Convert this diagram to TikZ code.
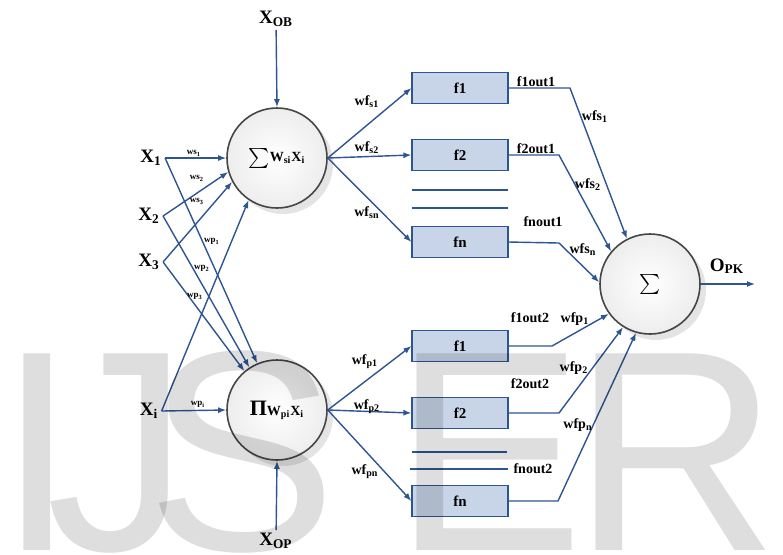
\documentclass[tikz,border=0pt]{standalone}
\usepackage{fontspec}
\setmainfont{Liberation Serif}
\newfontfamily\wmfont{Liberation Sans}
\usetikzlibrary{arrows.meta,positioning,shadows}

\definecolor{lineblue}{RGB}{45,85,145}
\definecolor{boxfill}{RGB}{200,213,233}
\definecolor{ringgray}{RGB}{70,70,70}

\begin{document}
\begin{tikzpicture}[
  x=0.5pt, y=-0.5pt,
  neuron/.style={circle, draw=ringgray, line width=0.8pt, minimum size=50pt, inner sep=0pt,
    inner color=white, outer color=gray!14, font=\fontsize{7}{8}\selectfont\bfseries,
    drop shadow={shadow xshift=3pt, shadow yshift=-3pt, opacity=.35, fill=gray!60}},
  fbox/.style={draw=lineblue, fill=boxfill, line width=0.6pt, minimum width=48pt, minimum height=15.5pt,
    inner sep=0pt, font=\fontsize{7.5}{9}\selectfont\bfseries},
  arr/.style={-{Latex[length=4pt,width=3pt]}, line width=0.7pt, lineblue},
  wire/.style={line width=0.7pt, lineblue},
  sep/.style={line width=0.6pt, lineblue},
  inp/.style={font=\fontsize{9.5}{11}\selectfont\bfseries, inner sep=1.5pt},
  wt/.style={font=\fontsize{4.5}{5}\selectfont\bfseries, inner sep=0pt},
  wlab/.style={font=\fontsize{7}{8}\selectfont\bfseries, inner sep=0pt},
  wm/.style={font=\fontsize{143}{143}\selectfont\wmfont, anchor=base, inner sep=0pt, text=black, text opacity=0.13}
]
\useasboundingbox (0,0) rectangle (783,554);

% neurons
\node[neuron] (sumnode) at (277,158) {$\sum$W\textsubscript{si}X\textsubscript{i}};
\node[neuron] (prodnode) at (277,410) {{\fontsize{11}{12}\selectfont Π}W\textsubscript{pi}X\textsubscript{i}};
\node[neuron] (outnode) at (650,284) {\fontsize{11}{12}\selectfont$\sum$};

% inputs
\node[inp] (xa) at (151,158) {X\textsubscript{1}};
\node[inp] (xb) at (149,216) {X\textsubscript{2}};
\node[inp] (xc) at (149,262) {X\textsubscript{3}};
\node[inp] (xi) at (149,411) {X\textsubscript{i}};
\node[inp] (xob) at (276,19) {X\textsubscript{OB}};
\node[inp] (xop) at (276,541) {X\textsubscript{OP}};

\draw[arr] (xob) -- (sumnode.north);
\draw[arr] (xop) -- (prodnode.south);

\draw[arr] (xa.east) -- (sumnode.180);
\draw[arr] (xb.east) -- (sumnode.196);
\draw[arr] (xc.east) -- (sumnode.208);
\draw[arr] (xi.east) -- (sumnode.236);
\draw[arr] (xa.east) -- (prodnode.113);
\draw[arr] (xb.east) -- (prodnode.123);
\draw[arr] (xc.east) -- (prodnode.130);
\draw[arr] (xi.east) -- (prodnode.180);

\node[wt] (wsa) at (194,153) {ws\textsubscript{1}};
\node[wt] (wsb) at (197,178) {ws\textsubscript{2}};
\node[wt] (wsc) at (197,201) {ws\textsubscript{3}};
\node[wt] (wpa) at (212,241) {wp\textsubscript{1}};
\node[wt] (wpb) at (202,268) {wp\textsubscript{2}};
\node[wt] (wpc) at (195,296) {wp\textsubscript{3}};
\node[wt] (wpi) at (198,404) {wp\textsubscript{i}};

% function boxes
\node[fbox] (fsa) at (460,88) {f1};
\node[fbox] (fsb) at (460,155) {f2};
\node[fbox] (fsn) at (460,242) {fn};
\node[fbox] (fpa) at (460,346) {f1};
\node[fbox] (fpb) at (460,413) {f2};
\node[fbox] (fpn) at (460,501) {fn};

\draw[sep] (412,190) -- (508,190);
\draw[sep] (412,208) -- (508,208);
\draw[sep] (412,452) -- (507,452);
\draw[sep] (410,469) -- (508,469);

\draw[arr] (sumnode.east) -- (fsa.west);
\draw[arr] (sumnode.east) -- (fsb.west);
\draw[arr] (sumnode.east) -- (fsn.west);
\draw[arr] (prodnode.east) -- (fpa.west);
\draw[arr] (prodnode.east) -- (fpb.west);
\draw[arr] (prodnode.east) -- (fpn.west);

\node[wlab] (wfsa) at (367,102) {wf\textsubscript{s1}};
\node[wlab] (wfsb) at (367,148) {wf\textsubscript{s2}};
\node[wlab] (wfsn) at (367,213) {wf\textsubscript{sn}};
\node[wlab] (wfpa) at (365,362) {wf\textsubscript{p1}};
\node[wlab] (wfpb) at (367,407) {wf\textsubscript{p2}};
\node[wlab] (wfpn) at (365,472) {wf\textsubscript{pn}};

% outputs to the sum
\coordinate (ka) at (570,88);
\coordinate (kb) at (559,155);
\coordinate (kn) at (559,243);
\coordinate (qa) at (552,346);
\coordinate (qb) at (559,413);
\coordinate (qn) at (558,501);
\draw[arr] (fsa.east) -- (ka) -- (outnode.117);
\draw[arr] (fsb.east) -- (kb) -- (outnode.140);
\draw[arr] (fsn.east) -- (kn) -- (outnode.178);
\draw[arr] (fpa.east) -- (qa) -- (outnode.216);
\draw[arr] (fpb.east) -- (qb) -- (outnode.238);
\draw[arr] (fpn.east) -- (qn) -- (outnode.254);

\node[wlab] (oa) at (536,82) {f1out1};
\node[wlab] (ob) at (536,149) {f2out1};
\node[wlab] (on) at (543,222) {fnout1};
\node[wlab] (pa) at (530,318) {f1out2};
\node[wlab] (pb) at (530,384) {f2out2};
\node[wlab] (pn) at (533,469) {fnout2};

\node[wlab] (wssa) at (595,117) {wfs\textsubscript{1}};
\node[wlab] (wssb) at (588,185) {wfs\textsubscript{2}};
\node[wlab] (wssn) at (583,250) {wfs\textsubscript{n}};
\node[wlab] (wppa) at (575,319) {wfp\textsubscript{1}};
\node[wlab] (wppb) at (574,368) {wfp\textsubscript{2}};
\node[wlab] (wppn) at (578,425) {wfp\textsubscript{n}};

\coordinate (oend) at (755,284);
\draw[arr] (outnode.east) -- (oend);
\node[inp] (opk) at (727,266) {O\textsubscript{PK}};

% watermark
\node[wm] (wmi) at (37,550) {I};
\node[wm] (wmj) at (118,550) {J};
\node[wm] (wms) at (242,550) {S};
\node[wm] (wme) at (489,550) {E};
\node[wm] (wmr) at (676,550) {R};
\end{tikzpicture}
\end{document}
